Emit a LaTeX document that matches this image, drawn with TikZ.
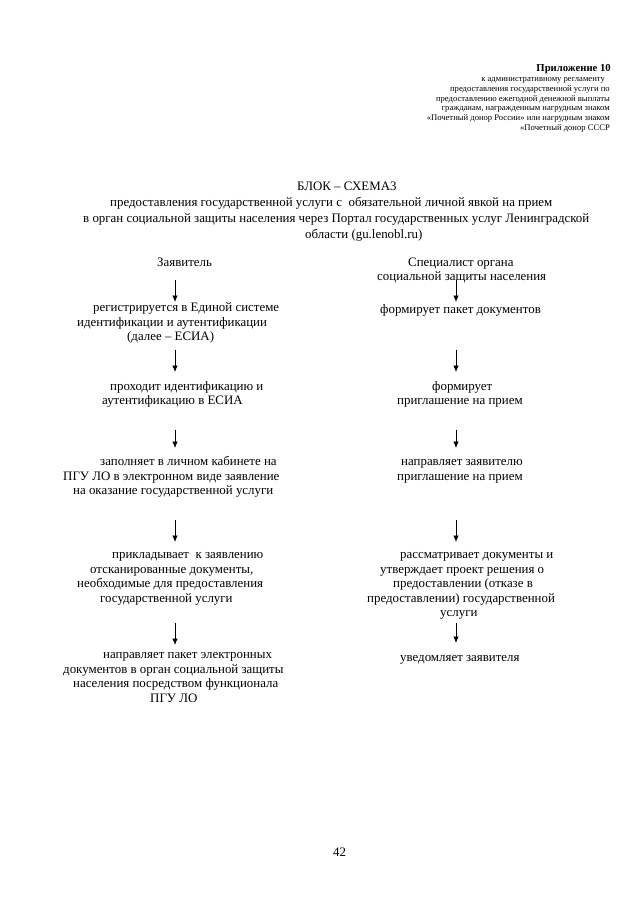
\documentclass[tikz,border=0pt]{standalone}
\usepackage{fontspec}
\setmainfont{Liberation Serif}
\usetikzlibrary{arrows.meta}
\begin{document}
\begin{tikzpicture}[x=1pt,y=-1pt,
  txt/.style={inner sep=0pt, anchor=base west, align=left, font=\fontsize{12.9}{14.6}\selectfont},
  hdr/.style={inner sep=0pt, anchor=base east, font=\fontsize{8.6}{9.8}\selectfont},
  flow/.style={line width=0.8pt, -{Latex[length=6.5pt,width=5.5pt]}}]
\useasboundingbox[fill=white] (0,0) rectangle (640,905);

% header
\node[hdr, font=\bfseries\fontsize{10.7}{12}\selectfont] (h0) at (611,71.5) {Приложение 10};
\node[hdr] (h1) at (605,81.5) {к административному регламенту};
\node[hdr] (h2) at (610,91.3) {предоставления государственной услуги по};
\node[hdr] (h3) at (610,101.1) {предоставлению ежегодной денежной выплаты};
\node[hdr] (h4) at (610,110.9) {гражданам, награжденным нагрудным знаком};
\node[hdr] (h5) at (610,120.7) {«Почетный донор России» или нагрудным знаком};
\node[hdr] (h6) at (610,130.5) {«Почетный донор СССР};

% title (anchor = baseline of last line)
\node[txt, font=\fontsize{12.9}{16}\selectfont] (title) at (83,238) {%
\hspace*{214pt}БЛОК – СХЕМА3\\
\hspace*{27pt}предоставления государственной услуги с~~обязательной личной явкой на прием\\
в орган социальной защиты населения через Портал государственных услуг Ленинградской\\
\hspace*{222pt}области (gu.lenobl.ru)};

% left column
\node[txt] (L0) at (157,266) {Заявитель};
\node[txt] (L1) at (77,340.7) {\hspace*{16pt}регистрируется в Единой системе\\
идентификации и аутентификации\\
\hspace*{50pt}(далее – ЕСИА)};
\node[txt] (L2) at (102,404.6) {\hspace*{8pt}проходит идентификацию и\\
аутентификацию в ЕСИА};
\node[txt] (L3) at (63,494.7) {\hspace*{37pt}заполняет в личном кабинете на\\
ПГУ ЛО в электронном виде заявление\\
\hspace*{10pt}на оказание государственной услуги};
\node[txt] (L4) at (77,602.3) {\hspace*{35pt}прикладывает~~к заявлению\\
\hspace*{13pt}отсканированные документы,\\
необходимые для предоставления\\
\hspace*{23pt}государственной услуги};
\node[txt] (L5) at (63,702.3) {\hspace*{40pt}направляет пакет электронных\\
документов в орган социальной защиты\\
\hspace*{10pt}населения посредством функционала\\
\hspace*{87pt}ПГУ ЛО};

% right column
\node[txt] (R0) at (377,280.6) {\hspace*{31pt}Специалист органа\\
социальной защиты населения};
\node[txt] (R1) at (380,313) {формирует пакет документов};
\node[txt] (R2) at (397,404.6) {\hspace*{35pt}формирует\\
приглашение на прием};
\node[txt] (R3) at (397,480.1) {\hspace*{4pt}направляет заявителю\\
приглашение на прием};
\node[txt] (R4) at (367,616.9) {\hspace*{33pt}рассматривает документы и\\
\hspace*{13pt}утверждает проект решения о\\
\hspace*{26pt}предоставлении (отказе в\\
предоставлении) государственной\\
\hspace*{73pt}услуги};
\node[txt] (R5) at (400,661) {уведомляет заявителя};

% page number
\node[txt] (pg) at (333,856) {42};

% arrow end points
\foreach \n/\x/\a/\b in {la1/175/280/302, la2/175/350/372, la3/175/430/448, la4/175/520/542, la5/175/623/645,
                         ra1/456/280/302, ra2/456/350/372, ra3/456/430/448, ra4/456/520/542, ra5/456/623/643}{
  \coordinate (\n s) at (\x,\a);
  \coordinate (\n e) at (\x,\b);
}
\foreach \n in {la1,la2,la3,la4,la5,ra1,ra2,ra3,ra4,ra5}{
  \draw[flow] (\n s) -- (\n e);
}
\end{tikzpicture}
\end{document}
